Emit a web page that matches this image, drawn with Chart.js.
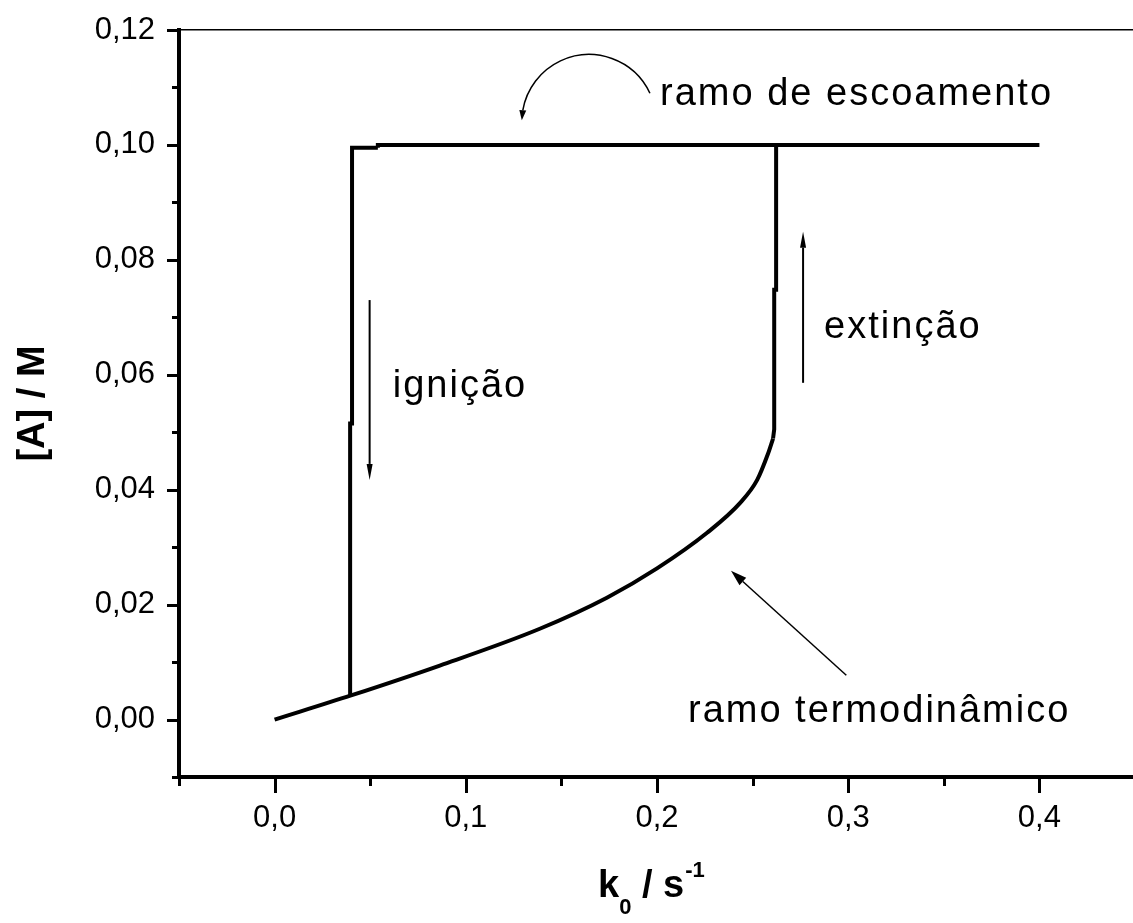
<!DOCTYPE html>
<html>
<head>
<meta charset="utf-8">
<script src="https://cdn.jsdelivr.net/npm/chart.js@4"></script>
<style>
  html, body { margin: 0; padding: 0; overflow: hidden; background: #ffffff; }
  canvas { display: block; }
</style>
</head>
<body>
<canvas id="grafico" width="1140" height="923"></canvas>
<script>
// Ramo termodinâmico: curva inferior até o ponto de extinção
const termoK = [0, 0.04, 0.0864, 0.1387, 0.1738, 0.2, 0.2262, 0.2435, 0.2524, 0.258, 0.2607];
const termoA = [0, 0.0042, 0.0094, 0.0158, 0.0212, 0.0263, 0.0325, 0.0377, 0.0417, 0.0462, 0.0489];

// Salto de extinção (subida vertical até o ramo de escoamento)
const extincaoK = [0.2607, 0.2613, 0.2613, 0.2623, 0.2623];
const extincaoA = [0.0489, 0.0505, 0.0748, 0.0748, 0.1];

// Salto de ignição (descida vertical a partir do ramo de escoamento)
const ignicaoK = [0.0395, 0.0395, 0.0405, 0.0405, 0.054];
const ignicaoA = [0.0042, 0.0515, 0.0515, 0.0995, 0.0995];

// Ramo de escoamento
const escoamentoK = [0.054, 0.054, 0.40];
const escoamentoA = [0.0995, 0.1, 0.1];

// Marcas dos eixos
const xTicksMaiores = [0, 0.1, 0.2, 0.3, 0.4];
const xTicksMenores = [-0.05, 0.05, 0.15, 0.25, 0.35];
const yTicksMaiores = [0, 0.02, 0.04, 0.06, 0.08, 0.10, 0.12];
const yTicksMenores = [-0.01, 0.01, 0.03, 0.05, 0.07, 0.09, 0.11];

// Setas de anotação (coordenadas nos eixos k0 e [A])
const setaIgnicao = [[0.0497, 0.073], [0.0497, 0.0417]];
const setaExtincao = [[0.2764, 0.0586], [0.2764, 0.0849]];
const setaTermo = [[0.299, 0.0077], [0.2387, 0.0259]];
const setaCurva = [[0.1963, 0.109], [0.1618, 0.1157], [0.1293, 0.1043]];

// Rótulos de texto
const rotulos = ['ramo de escoamento', 'ignição', 'extinção', 'ramo termodinâmico'];
const rotulosK = [0.2016, 0.0618, 0.2874, 0.2162];
const rotulosA = [0.107, 0.0562, 0.0664, -0.0004];

const pares = (xs, ys) => xs.map((v, i) => ({ x: v, y: ys[i] }));
const FONTE = '"Liberation Sans", Arial, sans-serif';

const estiloLinha = {
  borderColor: '#000000',
  borderWidth: 4,
  pointRadius: 0,
  fill: false,
  showLine: true,
  borderJoinStyle: 'miter',
  borderCapStyle: 'butt'
};

function desenhaSeta(ctx, x0, y0, x1, y1, comp, larg, espessura) {
  const ang = Math.atan2(y1 - y0, x1 - x0);
  const bx = x1 - comp * Math.cos(ang), by = y1 - comp * Math.sin(ang);
  ctx.lineWidth = espessura;
  ctx.beginPath();
  ctx.moveTo(x0, y0);
  ctx.lineTo(bx, by);
  ctx.stroke();
  ctx.beginPath();
  ctx.moveTo(x1, y1);
  ctx.lineTo(bx + larg * Math.sin(ang), by - larg * Math.cos(ang));
  ctx.lineTo(bx - larg * Math.sin(ang), by + larg * Math.cos(ang));
  ctx.closePath();
  ctx.fill();
}

const anotacoes = {
  id: 'anotacoes',
  afterDraw(chart) {
    const { ctx, chartArea, scales } = chart;
    const px = v => scales.x.getPixelForValue(v);
    const py = v => scales.y.getPixelForValue(v);
    ctx.save();
    ctx.strokeStyle = '#000000';
    ctx.fillStyle = '#000000';
    ctx.lineCap = 'butt';

    // marcas maiores e menores dos eixos
    ctx.lineWidth = 3;
    const traco = (a, b, c, d) => { ctx.beginPath(); ctx.moveTo(a, b); ctx.lineTo(c, d); ctx.stroke(); };
    yTicksMaiores.forEach(v => traco(chartArea.left - 12, Math.round(py(v)) + 0.5, chartArea.left, Math.round(py(v)) + 0.5));
    yTicksMenores.forEach(v => traco(chartArea.left - 7, Math.round(py(v)) + 0.5, chartArea.left, Math.round(py(v)) + 0.5));
    xTicksMaiores.forEach(v => traco(Math.round(px(v)) + 0.5, chartArea.bottom, Math.round(px(v)) + 0.5, chartArea.bottom + 16));
    xTicksMenores.forEach(v => traco(Math.round(px(v)) + 0.5, chartArea.bottom, Math.round(px(v)) + 0.5, chartArea.bottom + 9));

    // setas retas
    desenhaSeta(ctx, px(setaIgnicao[0][0]), py(setaIgnicao[0][1]), px(setaIgnicao[1][0]), py(setaIgnicao[1][1]), 16, 3, 2);
    desenhaSeta(ctx, px(setaExtincao[0][0]), py(setaExtincao[0][1]), px(setaExtincao[1][0]), py(setaExtincao[1][1]), 16, 3, 2);
    desenhaSeta(ctx, px(setaTermo[0][0]), py(setaTermo[0][1]), px(setaTermo[1][0]), py(setaTermo[1][1]), 16, 5, 1.5);

    // seta curva: arco de circunferência pelos três pontos
    const [A, B, C] = setaCurva.map(p => [px(p[0]), py(p[1])]);
    const d = 2 * (A[0] * (B[1] - C[1]) + B[0] * (C[1] - A[1]) + C[0] * (A[1] - B[1]));
    const a2 = A[0] ** 2 + A[1] ** 2, b2 = B[0] ** 2 + B[1] ** 2, c2 = C[0] ** 2 + C[1] ** 2;
    const cx = (a2 * (B[1] - C[1]) + b2 * (C[1] - A[1]) + c2 * (A[1] - B[1])) / d;
    const cy = (a2 * (C[0] - B[0]) + b2 * (A[0] - C[0]) + c2 * (B[0] - A[0])) / d;
    const r = Math.hypot(A[0] - cx, A[1] - cy);
    const angA = Math.atan2(A[1] - cy, A[0] - cx);
    const angC = Math.atan2(C[1] - cy, C[0] - cx);
    const angFim = angC + 10 / r;
    ctx.lineWidth = 1.5;
    ctx.beginPath();
    ctx.arc(cx, cy, r, angA, angFim, true);
    ctx.stroke();
    const ex = cx + r * Math.cos(angFim), ey = cy + r * Math.sin(angFim);
    desenhaSeta(ctx, ex, ey, C[0], C[1], 10, 3.5, 1.5);

    // rótulos das regiões
    ctx.font = '38px ' + FONTE;
    ctx.letterSpacing = '2px';
    ctx.textBaseline = 'alphabetic';
    ctx.textAlign = 'left';
    rotulos.forEach((t, i) => ctx.fillText(t, px(rotulosK[i]), py(rotulosA[i])));
    ctx.letterSpacing = '0px';

    // título do eixo x: k0 / s-1
    let xt = 598;
    const base = 897;
    ctx.font = 'bold 38px ' + FONTE;
    ctx.fillText('k', xt, base);
    xt += ctx.measureText('k').width;
    ctx.font = 'bold 22px ' + FONTE;
    ctx.fillText('0', xt, base + 17);
    xt += ctx.measureText('0').width;
    ctx.font = 'bold 38px ' + FONTE;
    ctx.fillText(' / s', xt, base);
    xt += ctx.measureText(' / s').width;
    ctx.font = 'bold 22px ' + FONTE;
    ctx.fillText('-1', xt + 1, base - 20);
    ctx.restore();
  }
};

new Chart(document.getElementById('grafico'), {
  type: 'line',
  data: {
    datasets: [
      Object.assign({ label: 'ramo termodinâmico', data: pares(termoK, termoA), cubicInterpolationMode: 'monotone' }, estiloLinha),
      Object.assign({ label: 'extinção', data: pares(extincaoK, extincaoA), tension: 0 }, estiloLinha),
      Object.assign({ label: 'ignição', data: pares(ignicaoK, ignicaoA), tension: 0 }, estiloLinha),
      Object.assign({ label: 'ramo de escoamento', data: pares(escoamentoK, escoamentoA), tension: 0 }, estiloLinha)
    ]
  },
  options: {
    responsive: false,
    animation: false,
    devicePixelRatio: 1,
    layout: { padding: { left: 0, right: 5, top: 30, bottom: 0 } },
    plugins: { legend: { display: false }, tooltip: { enabled: false } },
    scales: {
      x: {
        type: 'linear',
        position: 'bottom',
        min: -0.05,
        max: 0.45,
        afterBuildTicks: s => { s.ticks = xTicksMaiores.map(v => ({ value: v })); },
        afterFit: s => { s.height = 146; s.paddingLeft = 0; s.paddingRight = 0; },
        grid: { display: false, drawTicks: false },
        border: { display: true, color: '#000000', width: 4 },
        ticks: {
          autoSkip: false,
          maxRotation: 0,
          padding: 23,
          color: '#000000',
          font: { family: FONTE, size: 31 },
          callback: v => v.toFixed(1).replace('.', ',')
        }
      },
      xTopo: {
        type: 'linear',
        position: 'top',
        min: -0.05,
        max: 0.45,
        afterFit: s => { s.height = 0; s.paddingLeft = 0; s.paddingRight = 0; },
        grid: { display: false, drawTicks: false },
        border: { display: true, color: '#000000', width: 1.5 },
        ticks: { display: false }
      },
      y: {
        type: 'linear',
        position: 'left',
        min: -0.01,
        max: 0.12,
        afterBuildTicks: s => { s.ticks = yTicksMaiores.map(v => ({ value: v })); },
        afterFit: s => { s.width = 179; s.paddingTop = 0; s.paddingBottom = 0; },
        grid: { display: false, drawTicks: false },
        border: { display: true, color: '#000000', width: 4 },
        title: {
          display: true,
          text: '[A] / M',
          color: '#000000',
          font: { family: FONTE, size: 38, weight: 'bold' },
          padding: { top: 11, bottom: 0 }
        },
        ticks: {
          autoSkip: false,
          padding: 24,
          color: '#000000',
          font: { family: FONTE, size: 31 },
          callback: v => v.toFixed(2).replace('.', ',')
        }
      }
    }
  },
  plugins: [anotacoes]
});
</script>
</body>
</html>
